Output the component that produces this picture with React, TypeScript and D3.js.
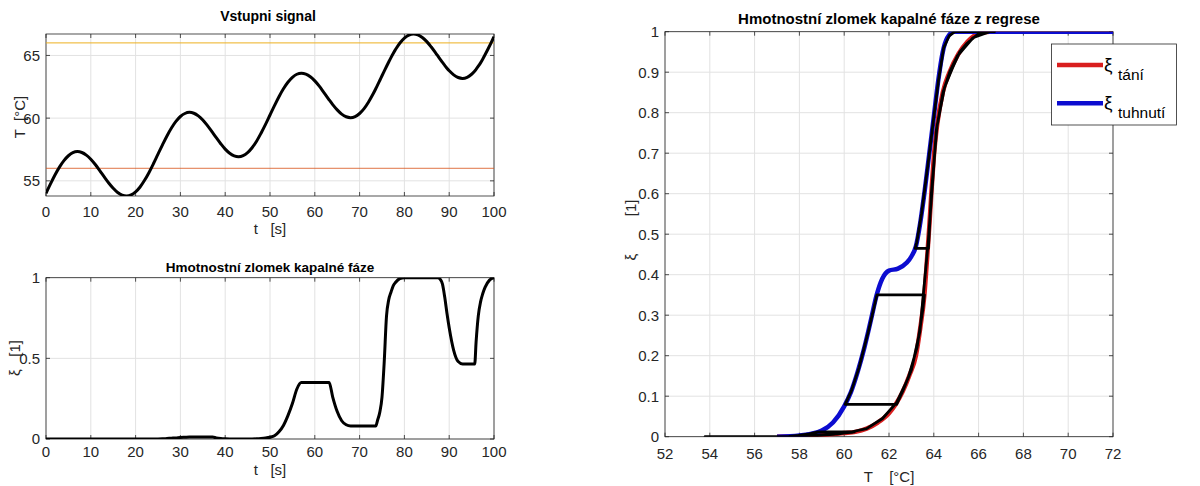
import * as d3 from 'd3'

// simulation time [s]; extra samples sit where the state switches branch or changes fast
const timeS = [
  0, 1, 2, 3, 4, 5, 6, 7, 8, 9,
  10, 11, 12, 13, 14, 15, 16, 17, 18, 19,
  20, 21, 22, 23, 24, 25, 26, 27, 28, 29,
  30, 31, 32, 33, 34, 35, 36, 37, 37.2, 38, 39,
  40, 41, 42, 43, 44, 45, 46, 47, 48, 49,
  50, 51, 52, 53, 54, 55, 56, 57, 58, 59,
  60, 61, 62, 63, 63.2, 64, 65, 66, 67, 68, 69,
  70, 71, 72, 73, 73.6, 74, 74.5, 75, 75.5, 76, 76.5, 77, 77.5, 78, 79,
  80, 81, 82, 83, 84, 85, 86, 87, 87.5, 88, 88.5, 89, 89.5,
  90, 91, 92, 93, 94, 95, 95.7, 96, 96.5, 97, 97.5, 98, 99,
  100,
]

// input temperature [°C]
const tempC = [
  54.0, 54.75, 55.46, 56.09, 56.61, 57.0, 57.25, 57.33, 57.26, 57.05,
  56.72, 56.3, 55.81, 55.31, 54.83, 54.41, 54.07, 53.86, 53.79, 53.88,
  54.12, 54.51, 55.04, 55.67, 56.38, 57.13, 57.87, 58.58, 59.21, 59.74,
  60.13, 60.37, 60.46, 60.39, 60.18, 59.85, 59.42, 58.94, 58.84, 58.44, 57.96,
  57.53, 57.2, 56.99, 56.92, 57.01, 57.25, 57.64, 58.16, 58.8, 59.5,
  60.25, 61.0, 61.71, 62.34, 62.86, 63.25, 63.5, 63.58, 63.51, 63.3,
  62.97, 62.55, 62.06, 61.56, 61.46, 61.08, 60.66, 60.32, 60.11, 60.04, 60.13,
  60.37, 60.76, 61.29, 61.92, 62.34, 62.63, 63.0, 63.38, 63.75, 64.12, 64.48, 64.83, 65.16, 65.46, 65.99,
  66.38, 66.62, 66.71, 66.64, 66.43, 66.1, 65.67, 65.19, 64.94, 64.69, 64.44, 64.21, 63.98,
  63.78, 63.45, 63.24, 63.17, 63.26, 63.5, 63.76, 63.89, 64.14, 64.41, 64.72, 65.05, 65.75,
  66.5,
]

// liquid mass fraction [1]
const xiSim = [
  0, 0, 0, 0, 0, 0, 0, 0, 0, 0,
  0, 0, 0, 0, 0, 0, 0, 0, 0, 0,
  0, 0, 0, 0, 0, 0, 0.001, 0.003, 0.005, 0.007,
  0.01, 0.011, 0.012, 0.012, 0.012, 0.012, 0.012, 0.012, 0.012, 0.007, 0.003,
  0.001, 0, 0, 0, 0, 0, 0, 0.001, 0.003, 0.006,
  0.011, 0.02, 0.045, 0.084, 0.145, 0.22, 0.31, 0.35, 0.35, 0.35,
  0.35, 0.35, 0.35, 0.35, 0.35, 0.26, 0.17, 0.113, 0.088, 0.08, 0.08,
  0.08, 0.08, 0.08, 0.08, 0.08, 0.115, 0.165, 0.26, 0.48, 0.76, 0.863, 0.91, 0.95, 0.97, 0.995,
  1, 1, 1, 1, 1, 1, 1, 1, 1, 0.99, 0.96, 0.88, 0.78,
  0.69, 0.55, 0.48, 0.465, 0.465, 0.465, 0.465, 0.6, 0.765, 0.85, 0.902, 0.94, 0.985,
  1,
]

// regression curves: melting (tání) and solidification (tuhnutí)
const meltT = [57, 58, 59, 60, 60.5, 61, 61.5, 62, 62.3, 62.6, 62.9, 63.2, 63.4, 63.58, 63.7, 63.8, 63.9, 64.0, 64.15, 64.4, 64.7, 65.1, 65.5, 66.0, 66.5, 72]
const meltXi = [0, 0.001, 0.004, 0.009, 0.012, 0.02, 0.035, 0.058, 0.08, 0.11, 0.15, 0.2, 0.27, 0.35, 0.44, 0.52, 0.61, 0.69, 0.77, 0.85, 0.9, 0.945, 0.975, 0.995, 1, 1]
const solidT = [57, 58, 58.5, 59, 59.5, 60, 60.3, 60.6, 60.9, 61.2, 61.45, 61.7, 62.0, 62.4, 62.8, 63.0, 63.2, 63.4, 63.6, 63.8, 64.0, 64.2, 64.4, 64.6, 64.9, 72]
const solidXi = [0, 0.003, 0.007, 0.015, 0.035, 0.075, 0.11, 0.16, 0.22, 0.29, 0.35, 0.39, 0.41, 0.415, 0.43, 0.445, 0.47, 0.53, 0.61, 0.7, 0.79, 0.88, 0.95, 0.985, 1, 1]

// phase change limits drawn in the input plot
const tempLow = 56
const tempHigh = 66

const timeTicks = [0, 10, 20, 30, 40, 50, 60, 70, 80, 90, 100]
const tempTicks = [55, 60, 65]
const xiTicks = [0, 0.5, 1]
const regTTicks = [52, 54, 56, 58, 60, 62, 64, 66, 68, 70, 72]
const regXiTicks = [0, 0.1, 0.2, 0.3, 0.4, 0.5, 0.6, 0.7, 0.8, 0.9, 1]
const legendNames = ['tání', 'tuhnutí']

const FONT = '"Liberation Sans", Arial, Helvetica, sans-serif'
const INK = '#262626'
const GRID = '#e2e2e2'
const RED = '#d91e1e'
const BLUE = '#0c0cd0'

type Scale = d3.ScaleLinear<number, number>

interface AxesProps {
  id: string
  x: Scale
  y: Scale
  xTicks: number[]
  yTicks: number[]
  fs: number
  xTickDy: number
  children?: React.ReactNode
}

// MATLAB-like axes: grid, box with inward ticks on all four sides, tick labels
const Axes = ({ id, x, y, xTicks, yTicks, fs, xTickDy, children }: AxesProps) => {
  const [x0, x1] = x.range()
  const [y0, y1] = y.range() // y0 = bottom, y1 = top
  const tl = 4
  return (
    <g>
      <rect x={x0} y={y1} width={x1 - x0} height={y0 - y1} fill="#fff" />
      {xTicks.map((t) => (
        <line key={'gx' + t} x1={x(t)} x2={x(t)} y1={y1} y2={y0} stroke={GRID} />
      ))}
      {yTicks.map((t) => (
        <line key={'gy' + t} x1={x0} x2={x1} y1={y(t)} y2={y(t)} stroke={GRID} />
      ))}
      <rect x={x0} y={y1} width={x1 - x0} height={y0 - y1} fill="none" stroke={INK} strokeWidth={0.8} />
      {xTicks.map((t) => (
        <g key={'tx' + t} stroke={INK} strokeWidth={0.8}>
          <line x1={x(t)} x2={x(t)} y1={y0} y2={y0 - tl} />
          <line x1={x(t)} x2={x(t)} y1={y1} y2={y1 + tl} />
        </g>
      ))}
      {yTicks.map((t) => (
        <g key={'ty' + t} stroke={INK} strokeWidth={0.8}>
          <line x1={x0} x2={x0 + tl} y1={y(t)} y2={y(t)} />
          <line x1={x1} x2={x1 - tl} y1={y(t)} y2={y(t)} />
        </g>
      ))}
      {xTicks.map((t) => (
        <text key={'lx' + t} x={x(t)} y={y0 + xTickDy} textAnchor="middle" fontSize={fs} fill={INK}>
          {String(t)}
        </text>
      ))}
      {yTicks.map((t) => (
        <text key={'ly' + t} x={x0 - 6} y={y(t)} dy="0.36em" textAnchor="end" fontSize={fs} fill={INK}>
          {String(t)}
        </text>
      ))}
      <clipPath id={id}>
        <rect x={x0} y={y1} width={x1 - x0} height={y0 - y1} />
      </clipPath>
      <g clipPath={`url(#${id})`}>{children}</g>
    </g>
  )
}

const App = () => {
  const xSig = d3.scaleLinear([0, 100], [46, 494])
  const ySig = d3.scaleLinear([53.79, 66.71], [196, 34])
  const xFr = d3.scaleLinear([0, 100], [46, 494])
  const yFr = d3.scaleLinear([0, 1], [439, 277.7])
  const xReg = d3.scaleLinear([52, 72], [665, 1113])
  const yReg = d3.scaleLinear([0, 1], [436.7, 31.7])

  const idx = d3.range(timeS.length)
  const sigPath = d3
    .line<number>()
    .x((i) => xSig(timeS[i]))
    .y((i) => ySig(tempC[i]))
    .curve(d3.curveCatmullRom)(idx)
  const frPath = d3
    .line<number>()
    .x((i) => xFr(timeS[i]))
    .y((i) => yFr(xiSim[i]))
    .curve(d3.curveMonotoneX)(idx)
  const trajPath = d3
    .line<number>()
    .x((i) => xReg(tempC[i]))
    .y((i) => yReg(xiSim[i]))(idx)
  const meltPath = d3
    .line<number>()
    .x((i) => xReg(meltT[i]))
    .y((i) => yReg(meltXi[i]))
    .curve(d3.curveMonotoneX)(d3.range(meltT.length))
  const solidPath = d3
    .line<number>()
    .x((i) => xReg(solidT[i]))
    .y((i) => yReg(solidXi[i]))
    .curve(d3.curveMonotoneX)(d3.range(solidT.length))

  const legendColors = [RED, BLUE]

  return (
    <svg
      width={1200}
      height={486}
      style={{ position: 'absolute', left: 0, top: 0, background: '#fff' }}
      fontFamily={FONT}
    >
      {/* input signal */}
      <Axes id="c1" x={xSig} y={ySig} xTicks={timeTicks} yTicks={tempTicks} fs={15} xTickDy={21}>
        <line x1={46} x2={494} y1={ySig(tempHigh)} y2={ySig(tempHigh)} stroke="#EDB120" strokeWidth={1} />
        <line x1={46} x2={494} y1={ySig(tempLow)} y2={ySig(tempLow)} stroke="#D95319" strokeWidth={1} opacity={0.8} />
        <path d={sigPath ?? ''} fill="none" stroke="#000" strokeWidth={3} />
      </Axes>
      <text x={268} y={21} textAnchor="middle" fontSize={14} fontWeight="bold" fill="#000">
        Vstupni signal
      </text>
      <text x={270} y={234} textAnchor="middle" fontSize={15} fill={INK} style={{ whiteSpace: 'pre' }}>
        {'t   [s]'}
      </text>
      <text
        transform="translate(25,117) rotate(-90)"
        textAnchor="middle"
        fontSize={15}
        fill={INK}
        style={{ whiteSpace: 'pre' }}
      >
        {'T  [°C]'}
      </text>

      {/* liquid fraction in time */}
      <Axes id="c2" x={xFr} y={yFr} xTicks={timeTicks} yTicks={xiTicks} fs={15} xTickDy={18}>
        <path d={frPath ?? ''} fill="none" stroke="#000" strokeWidth={3} />
      </Axes>
      <text x={270} y={272} textAnchor="middle" fontSize={13.5} fontWeight="bold" fill="#000">
        Hmotnostní zlomek kapalné fáze
      </text>
      <text x={270} y={475} textAnchor="middle" fontSize={15} fill={INK} style={{ whiteSpace: 'pre' }}>
        {'t   [s]'}
      </text>
      <text
        transform="translate(20,358) rotate(-90)"
        textAnchor="middle"
        fontSize={15}
        fill={INK}
        style={{ whiteSpace: 'pre' }}
      >
        {'ξ   [1]'}
      </text>

      {/* regression curves */}
      <Axes id="c3" x={xReg} y={yReg} xTicks={regTTicks} yTicks={regXiTicks} fs={15} xTickDy={22}>
        <path d={meltPath ?? ''} fill="none" stroke={RED} strokeWidth={4.5} />
        <path d={solidPath ?? ''} fill="none" stroke={BLUE} strokeWidth={4.5} />
        <path d={trajPath ?? ''} fill="none" stroke="#000" strokeWidth={2.8} strokeLinejoin="round" />
      </Axes>
      <text x={889} y={24} textAnchor="middle" fontSize={15} fontWeight="bold" fill="#000">
        Hmotnostní zlomek kapalné fáze z regrese
      </text>
      <text x={889} y={482} textAnchor="middle" fontSize={15} fill={INK} style={{ whiteSpace: 'pre' }}>
        {'T    [°C]'}
      </text>
      <text
        transform="translate(636,230) rotate(-90)"
        textAnchor="middle"
        fontSize={15}
        fill={INK}
        style={{ whiteSpace: 'pre' }}
      >
        {'ξ         [1]'}
      </text>

      {/* legend */}
      <g>
        <rect x={1051.5} y={44} width={125} height={81} fill="#fff" stroke={INK} strokeWidth={0.8} />
        {legendNames.map((name, i) => {
          const ly = 65 + i * 38.3
          return (
            <g key={name}>
              <line x1={1057} x2={1103} y1={ly} y2={ly} stroke={legendColors[i]} strokeWidth={4.5} />
              <text x={1104} y={ly + 6} fontSize={19} fill="#000">
                ξ
              </text>
              <text x={1118} y={ly + 14.5} fontSize={15.5} fill="#000">
                {name}
              </text>
            </g>
          )
        })}
      </g>
    </svg>
  )
}

export default App
